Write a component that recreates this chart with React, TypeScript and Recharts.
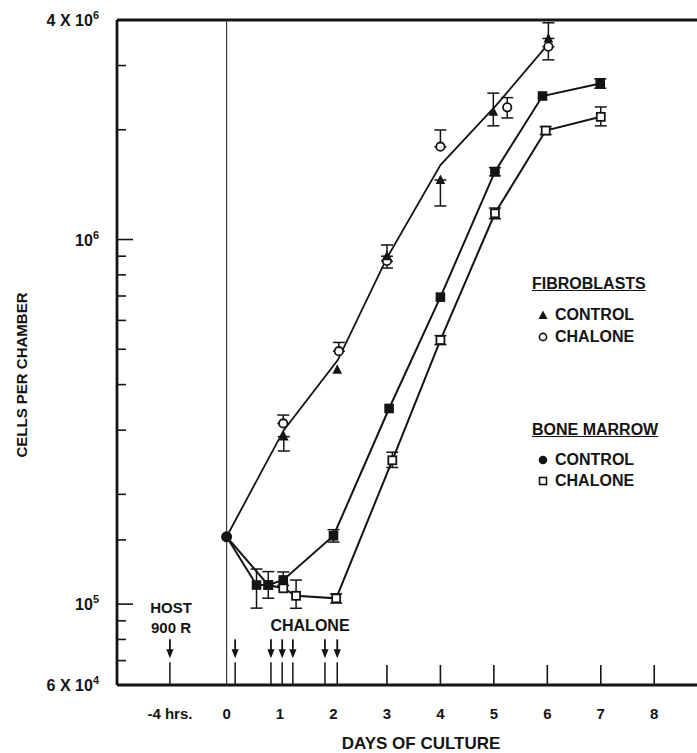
import React from 'react';
import { ComposedChart, Line, XAxis, YAxis, ErrorBar, ReferenceLine, ReferenceDot } from 'recharts';

// ---------------- data (days of culture, cells per chamber) ----------------
const fibroControlDays = [1.07, 2.07, 3.0, 4.0, 4.99, 6.02];
const fibroControlCells = [2.88e5, 4.39e5, 9.0e5, 1.456e6, 2.24e6, 3.56e6];
const fibroControlErrLow = [0.25e5, 0, 0, 0.22e6, 0.19e6, 0];
const fibroControlErrHigh = [0, 0, 0.66e5, 0, 0.28e6, 0.37e6];

const fibroChaloneDays = [1.06, 2.1, 3.0, 4.0, 5.25, 6.02];
const fibroChaloneCells = [3.13e5, 4.94e5, 8.73e5, 1.797e6, 2.305e6, 3.38e6];
const fibroChaloneErrLow = [0, 0, 0.38e5, 0, 0.15e6, 0.27e6];
const fibroChaloneErrHigh = [0.17e5, 0.28e5, 0, 0.2e6, 0.145e6, 0];

const fibroTrendDays = [0, 1.07, 2.08, 3.0, 4.0, 5.05, 6.02];
const fibroTrendCells = [1.53e5, 3.0e5, 4.67e5, 8.9e5, 1.6e6, 2.34e6, 3.44e6];

const marrowControlDays = [0, 0.56, 0.78, 1.06, 2.0, 3.04, 4.0, 5.02, 5.91, 6.99];
const marrowControlCells = [1.53e5, 1.128e5, 1.128e5, 1.165e5, 1.54e5, 3.44e5, 6.95e5, 1.535e6, 2.475e6, 2.68e6];
const marrowControlErrLow = [0, 0.153e5, 0.09e5, 0.04e5, 0.06e5, 0, 0, 0.04e6, 0, 0.08e6];
const marrowControlErrHigh = [0, 0.12e5, 0.1e5, 0.06e5, 0.06e5, 0, 0, 0.04e6, 0, 0.08e6];

const marrowChaloneDays = [0, 0.78, 1.06, 1.3, 2.05, 3.1, 4.0, 5.02, 5.97, 7.0];
const marrowChaloneCells = [1.53e5, 1.128e5, 1.105e5, 1.054e5, 1.037e5, 2.48e5, 5.3e5, 1.18e6, 1.99e6, 2.17e6];
const marrowChaloneErrLow = [0, 0, 0, 0.08e5, 0.03e5, 0.11e5, 0.15e5, 0.04e6, 0.05e6, 0.12e6];
const marrowChaloneErrHigh = [0, 0, 0, 0.11e5, 0.03e5, 0.13e5, 0.15e5, 0.04e6, 0.05e6, 0.14e6];

const hostArrowDay = -1.06;
const chaloneArrowDays = [0.16, 0.83, 1.04, 1.24, 1.84, 2.07];
const arrowTipCells = 7.1e4;

const xTickValues = [-1.06, 0, 1, 2, 3, 4, 5, 6, 7, 8];
const xTickLabels = ['-4 hrs.', '0', '1', '2', '3', '4', '5', '6', '7', '8'];

const yTickValues = [6e4, 7e4, 8e4, 9e4, 1e5, 1.5e5, 2e5, 3e5, 4e5, 5e5, 6e5, 7e5, 8e5, 9e5, 1e6, 2e6, 3e6, 4e6];
const yLabelValues = [4e6, 1e6, 1e5, 6e4];
const yLabelBases = ['4 X 10', '10', '10', '6 X 10'];
const yLabelExps = ['6', '6', '5', '4'];

// ---------------- helpers ----------------
type Pt = { day: number; cells: number; err: number[] | null };
const build = (days: number[], cells: number[], lo?: number[], hi?: number[]): Pt[] =>
  days.map((day, i) => ({
    day,
    cells: cells[i],
    err: lo && hi && (lo[i] || hi[i]) ? [lo[i], hi[i]] : null,
  }));

const fibroControl = build(fibroControlDays, fibroControlCells, fibroControlErrLow, fibroControlErrHigh);
const fibroChalone = build(fibroChaloneDays, fibroChaloneCells, fibroChaloneErrLow, fibroChaloneErrHigh);
const fibroTrend = build(fibroTrendDays, fibroTrendCells);
const marrowControl = build(marrowControlDays, marrowControlCells, marrowControlErrLow, marrowControlErrHigh);
const marrowChalone = build(marrowChaloneDays, marrowChaloneCells, marrowChaloneErrLow, marrowChaloneErrHigh);

const FONT = "'Liberation Sans', Arial, Helvetica, sans-serif";
const INK = '#141414';

const XTick = (props: any) => {
  const { x, y, payload } = props;
  const i = xTickValues.indexOf(payload.value);
  return (
    <g>
      {payload.value >= 3 && <line x1={x} x2={x} y1={y} y2={y - 20} stroke={INK} strokeWidth={1.6} />}
      <text x={x} y={y + 34} textAnchor="middle" fontSize={15} fontWeight="bold" fontFamily={FONT} fill={INK}>
        {xTickLabels[i]}
      </text>
    </g>
  );
};

const YTick = (props: any) => {
  const { x, y, payload } = props;
  const v = payload.value;
  const li = yLabelValues.indexOf(v);
  const edge = v === yTickValues[0] || v === yTickValues[yTickValues.length - 1];
  const major = li >= 0;
  return (
    <g>
      {!edge && <line x1={x} x2={x + (major ? 16 : 9)} y1={y} y2={y} stroke={INK} strokeWidth={1.6} />}
      {li >= 0 && (
        <text x={x - 18} y={y + 6} textAnchor="end" fontSize={16} fontWeight="bold" fontFamily={FONT} fill={INK}>
          {yLabelBases[li]}
          <tspan dy={-7} fontSize={11}>{yLabelExps[li]}</tspan>
        </text>
      )}
    </g>
  );
};

const Triangle = (p: any) => {
  const { cx, cy, index } = p;
  if (cx == null || cy == null) return <g key={index} />;
  return <path key={index} d={`M${cx},${cy - 5.5} L${cx + 4.8},${cy + 4} L${cx - 4.8},${cy + 4} Z`} fill={INK} />;
};
const OpenCircle = (p: any) => {
  const { cx, cy, index } = p;
  if (cx == null || cy == null) return <g key={index} />;
  return <circle key={index} cx={cx} cy={cy} r={4.2} fill="#fff" stroke={INK} strokeWidth={1.8} />;
};
const FilledSquare = (p: any) => {
  const { cx, cy, index } = p;
  if (cx == null || cy == null) return <g key={index} />;
  if (index === 0) return <circle key={index} cx={cx} cy={cy} r={5.5} fill={INK} />;
  return <rect key={index} x={cx - 4.8} y={cy - 4.8} width={9.6} height={9.6} fill={INK} />;
};
const OpenSquare = (p: any) => {
  const { cx, cy, index } = p;
  if (cx == null || cy == null || index === 0) return <g key={index} />;
  return <rect key={index} x={cx - 4} y={cy - 4} width={8} height={8} fill="#fff" stroke={INK} strokeWidth={1.8} />;
};

const Arrow = (p: any) => {
  const { cx, cy } = p;
  return (
    <g>
      <line x1={cx} x2={cx} y1={cy - 19} y2={cy - 7} stroke={INK} strokeWidth={1.8} />
      <path d={`M${cx - 3.6},${cy - 9} L${cx + 3.6},${cy - 9} L${cx},${cy} Z`} fill={INK} />
      <line x1={cx} x2={cx} y1={cy + 4} y2={cy + 27} stroke={INK} strokeWidth={1.5} />
    </g>
  );
};

const txt = (left: number, top: number, size: number, content: React.ReactNode, extra: React.CSSProperties = {}) => (
  <div
    style={{
      position: 'absolute',
      left,
      top,
      transform: 'translate(-50%, -50%)',
      fontFamily: FONT,
      fontWeight: 'bold',
      fontSize: size,
      lineHeight: 1,
      color: INK,
      whiteSpace: 'nowrap',
      ...extra,
    }}
  >
    {content}
  </div>
);

const legendRow = (left: number, top: number, marker: React.ReactNode, label: string) => (
  <div
    style={{
      position: 'absolute',
      left,
      top,
      transform: 'translateY(-50%)',
      display: 'flex',
      alignItems: 'center',
      fontFamily: FONT,
      fontWeight: 'bold',
      fontSize: 16,
      lineHeight: 1,
      color: INK,
      whiteSpace: 'nowrap',
    }}
  >
    <svg width={14} height={12} style={{ marginRight: 5 }}>{marker}</svg>
    {label}
  </div>
);

export default function App() {
  return (
    <div style={{ position: 'fixed', left: 0, top: 0, width: 697, height: 753, background: '#fff', overflow: 'hidden' }}>
      <ComposedChart width={697} height={753} margin={{ top: 20, right: 0, bottom: 0, left: 0 }}>
        <XAxis
          type="number"
          dataKey="day"
          domain={[-2.05, 8.8]}
          allowDataOverflow
          ticks={xTickValues}
          interval={0}
          height={68}
          tickSize={0}
          tickMargin={0}
          tickLine={false}
          axisLine={{ stroke: INK, strokeWidth: 2.8 }}
          tick={XTick}
        />
        <YAxis
          type="number"
          dataKey="cells"
          scale="log"
          domain={[6e4, 4e6]}
          allowDataOverflow
          ticks={yTickValues}
          interval={0}
          width={117}
          tickSize={0}
          tickMargin={0}
          tickLine={false}
          axisLine={{ stroke: INK, strokeWidth: 2.8 }}
          tick={YTick}
        />
        <ReferenceLine y={4e6} stroke={INK} strokeWidth={2.8} ifOverflow="visible" />
        <ReferenceLine x={0} stroke="#3a3a3a" strokeWidth={1.2} ifOverflow="visible" />

        <Line
          data={fibroTrend}
          dataKey="cells"
          stroke={INK}
          strokeWidth={1.8}
          dot={false}
          isAnimationActive={false}
        />
        <Line data={fibroChalone} dataKey="cells" stroke="none" dot={OpenCircle} isAnimationActive={false}>
          <ErrorBar dataKey="err" direction="y" width={6} stroke={INK} strokeWidth={1.5} />
        </Line>
        <Line data={fibroControl} dataKey="cells" stroke="none" dot={Triangle} isAnimationActive={false}>
          <ErrorBar dataKey="err" direction="y" width={6} stroke={INK} strokeWidth={1.5} />
        </Line>
        <Line data={marrowChalone} dataKey="cells" stroke={INK} strokeWidth={2} dot={OpenSquare} isAnimationActive={false}>
          <ErrorBar dataKey="err" direction="y" width={6} stroke={INK} strokeWidth={1.5} />
        </Line>
        <Line data={marrowControl} dataKey="cells" stroke={INK} strokeWidth={2} dot={FilledSquare} isAnimationActive={false}>
          <ErrorBar dataKey="err" direction="y" width={6} stroke={INK} strokeWidth={1.5} />
        </Line>

        <ReferenceDot x={hostArrowDay} y={arrowTipCells} shape={Arrow} ifOverflow="visible" />
        {chaloneArrowDays.map((d) => (
          <ReferenceDot key={d} x={d} y={arrowTipCells} shape={Arrow} ifOverflow="visible" />
        ))}
      </ComposedChart>

      {/* annotations */}
      {txt(171, 607, 15, 'HOST')}
      {txt(171, 627, 15, '900 R')}
      {txt(310, 626, 16, 'CHALONE')}
      {txt(421, 743, 17, 'DAYS OF CULTURE')}
      {txt(21, 375, 15, 'CELLS PER CHAMBER', { transform: 'translate(-50%, -50%) rotate(-90deg)' })}

      {/* legend */}
      <div style={{ position: 'absolute', left: 532, top: 284, transform: 'translateY(-50%)', fontFamily: FONT, fontWeight: 'bold', fontSize: 16, lineHeight: 1, color: INK, textDecoration: 'underline', whiteSpace: 'nowrap' }}>
        FIBROBLASTS
      </div>
      {legendRow(536, 315, <path d="M7,1.5 L11.5,10 L2.5,10 Z" fill={INK} />, 'CONTROL')}
      {legendRow(536, 337, <circle cx={7} cy={6} r={3.6} fill="#fff" stroke={INK} strokeWidth={1.6} />, 'CHALONE')}
      <div style={{ position: 'absolute', left: 532, top: 430, transform: 'translateY(-50%)', fontFamily: FONT, fontWeight: 'bold', fontSize: 16, lineHeight: 1, color: INK, textDecoration: 'underline', whiteSpace: 'nowrap' }}>
        BONE MARROW
      </div>
      {legendRow(536, 460, <circle cx={7} cy={6} r={4.3} fill={INK} />, 'CONTROL')}
      {legendRow(536, 481, <rect x={3.5} y={2.5} width={7} height={7} fill="#fff" stroke={INK} strokeWidth={1.6} />, 'CHALONE')}
    </div>
  );
}
